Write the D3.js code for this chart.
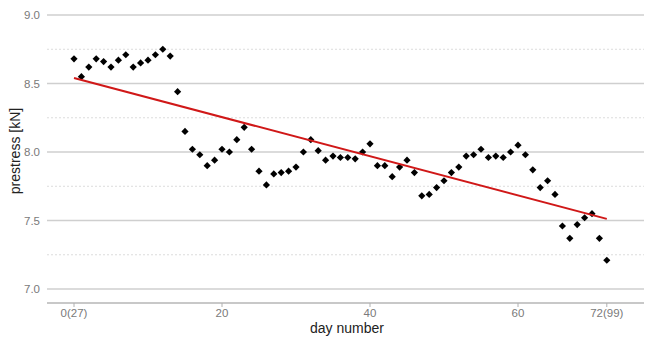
<!DOCTYPE html>
<html>
<head>
<meta charset="utf-8">
<script src="https://cdn.jsdelivr.net/npm/d3@7"></script>
<style>
  body { margin: 0; background: #fff; }
  text { font-family: "Liberation Sans", Arial, sans-serif; }
</style>
</head>
<body>
<svg id="chart" width="646" height="338"></svg>
<script>
// prestress readings per day (day 0 = day 27, day 72 = day 99)
var prestress = [
  8.68, 8.55, 8.62, 8.68, 8.66, 8.62, 8.67, 8.71, 8.62, 8.65,
  8.67, 8.71, 8.75, 8.70, 8.44, 8.15, 8.02, 7.98, 7.90, 7.94,
  8.02, 8.00, 8.09, 8.18, 8.02, 7.86, 7.76, 7.84, 7.85, 7.86,
  7.89, 8.00, 8.09, 8.01, 7.94, 7.97, 7.96, 7.96, 7.95, 8.00,
  8.06, 7.90, 7.90, 7.82, 7.89, 7.94, 7.85, 7.68, 7.69, 7.74,
  7.79, 7.85, 7.89, 7.97, 7.98, 8.02, 7.96, 7.97, 7.96, 8.00,
  8.05, 7.98, 7.87, 7.74, 7.79, 7.69, 7.46, 7.37, 7.47, 7.52,
  7.55, 7.37, 7.21
];
var days = d3.range(prestress.length);
var xTicks = [0, 20, 40, 60, 72];
var xTickLabels = ["0(27)", "20", "40", "60", "72(99)"];
var yMajor = [7.0, 7.5, 8.0, 8.5, 9.0];
var yMinor = [7.25, 7.75, 8.25, 8.75];

var svg = d3.select("#chart");
var left = 47, right = 644;

var x = d3.scaleLinear().domain([0, 72]).range([74, 606.8]);
var y = d3.scaleLinear().domain([7.0, 9.0]).range([289, 15]);

// grid
svg.selectAll(".minor").data(yMinor).enter().append("line")
  .attr("x1", left).attr("x2", right)
  .attr("y1", function(d){ return y(d); }).attr("y2", function(d){ return y(d); })
  .attr("stroke", "#dcdcdc").attr("stroke-width", 1)
  .attr("stroke-dasharray", "2,2");

svg.selectAll(".major").data(yMajor).enter().append("line")
  .attr("x1", left).attr("x2", right)
  .attr("y1", function(d){ return y(d); }).attr("y2", function(d){ return y(d); })
  .attr("stroke", "#cfcfcf").attr("stroke-width", 1.3);

// y axis labels
svg.selectAll(".ylab").data(yMajor).enter().append("text")
  .attr("x", 40).attr("y", function(d){ return y(d) + 4; })
  .attr("text-anchor", "end")
  .attr("font-size", 11.5).attr("fill", "#7a7a7a")
  .text(function(d){ return d.toFixed(1); });

// bottom axis
var axisY = 303;
svg.append("line").attr("x1", left).attr("x2", right)
  .attr("y1", axisY).attr("y2", axisY)
  .attr("stroke", "#c8c8c8").attr("stroke-width", 2);
svg.selectAll(".xtick").data(xTicks).enter().append("line")
  .attr("x1", function(d){ return x(d); }).attr("x2", function(d){ return x(d); })
  .attr("y1", axisY).attr("y2", axisY + 4)
  .attr("stroke", "#b0b0b0").attr("stroke-width", 1);
svg.selectAll(".xlab").data(xTicks).enter().append("text")
  .attr("x", function(d){ return x(d); }).attr("y", 317)
  .attr("text-anchor", "middle")
  .attr("font-size", 11.5).attr("fill", "#7a7a7a")
  .text(function(d, i){ return xTickLabels[i]; });

// axis titles
svg.append("text").attr("x", 347).attr("y", 333)
  .attr("text-anchor", "middle").attr("font-size", 14).attr("fill", "#222")
  .text("day number");
svg.append("text")
  .attr("transform", "translate(20,151) rotate(-90)")
  .attr("text-anchor", "middle").attr("font-size", 14).attr("fill", "#222")
  .text("prestress [kN]");

// points
svg.selectAll(".pt").data(prestress).enter().append("path")
  .attr("d", "M0,-3.6L3.6,0L0,3.6L-3.6,0Z")
  .attr("transform", function(d, i){ return "translate(" + x(days[i]) + "," + y(d) + ")"; })
  .attr("fill", "#000");

// linear fit
var mx = d3.mean(days), my = d3.mean(prestress);
var sxy = d3.sum(days, function(d, i){ return (d - mx) * (prestress[i] - my); });
var sxx = d3.sum(days, function(d){ return (d - mx) * (d - mx); });
var slope = sxy / sxx, icpt = my - slope * mx;
svg.append("path")
  .datum([0, 72])
  .attr("d", d3.line().x(function(d){ return x(d); }).y(function(d){ return y(icpt + slope * d); }))
  .attr("stroke", "#d01818").attr("stroke-width", 2).attr("fill", "none");
</script>
</body>
</html>
